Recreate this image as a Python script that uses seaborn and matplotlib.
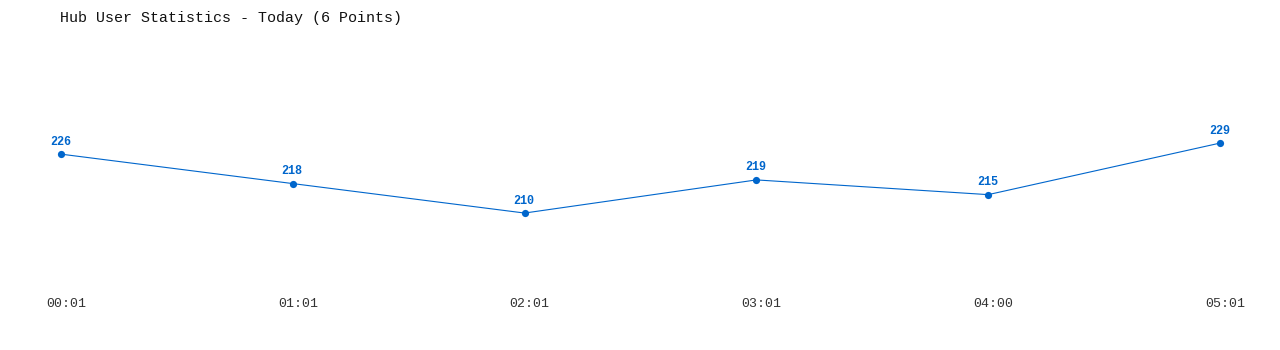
import matplotlib
matplotlib.use("Agg")
import matplotlib.pyplot as plt
import matplotlib.transforms as mtransforms
import seaborn as sns
import pandas as pd

times = ["00:01", "01:01", "02:01", "03:01", "04:00", "05:01"]
users = [226, 218, 210, 219, 215, 229]
title = "Hub User Statistics - Today (6 Points)"

sns.set_theme(style="white")
plt.rcParams["font.family"] = ["Liberation Mono", "DejaVu Sans Mono"]

color = "#0066cc"
df = pd.DataFrame({"pos": range(len(times)), "users": users})

fig = plt.figure(figsize=(12.8, 3.5), dpi=100)
ax = fig.add_axes([61 / 1280, 1 - 290 / 350, (1220 - 61) / 1280, 250 / 350])

sns.lineplot(data=df, x="pos", y="users", ax=ax, color=color, linewidth=0.8,
             marker="o", markersize=5.2, markeredgewidth=0, clip_on=False)
for line in ax.lines:
    line.set_clip_on(False)

for x, v in zip(df["pos"], users):
    ax.annotate(str(v), (x, v), xytext=(-0.5, 9.0), textcoords="offset points",
                ha="center", va="center", fontsize=8.5, fontweight="bold",
                color=color)

ax.set_xlim(0, len(times) - 1)
ax.set_ylim(189.1, 257.0)
ax.set_xticks(range(len(times)))
ax.set_xticklabels(times, fontsize=9.5, color="#333333")
ax.tick_params(axis="x", length=0, pad=6)
offset = mtransforms.ScaledTranslation(5 / 100, 0, fig.dpi_scale_trans)
for lab in ax.get_xticklabels():
    lab.set_transform(lab.get_transform() + offset)
ax.set_yticks([])
ax.set_xlabel("")
ax.set_ylabel("")
for s in ax.spines.values():
    s.set_visible(False)

fig.text(60 / 1280, 1 - 18 / 350, title, ha="left", va="center",
         fontsize=10.8, color="#111111")

fig.savefig("out.png", dpi=100, facecolor="white")
